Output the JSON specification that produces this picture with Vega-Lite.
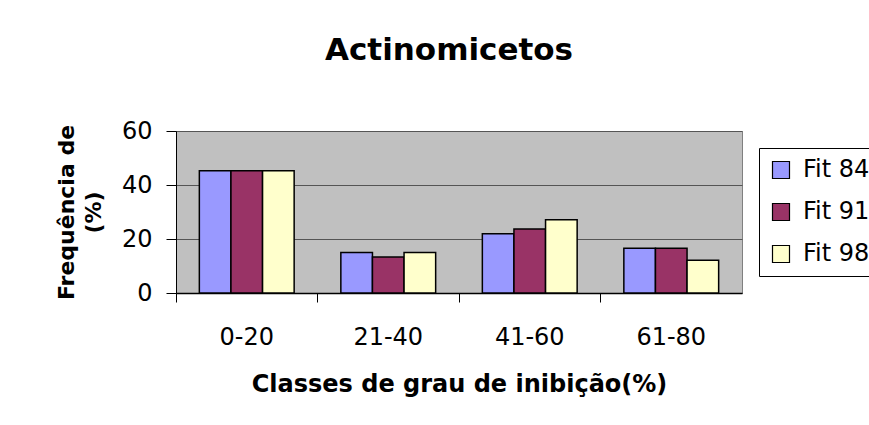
{
  "$schema": "https://vega.github.io/schema/vega-lite/v6.json",
  "autosize": {"type": "none"},
  "width": 566,
  "height": 162,
  "padding": {"left": 176, "top": 131, "right": 127, "bottom": 132},
  "background": "white",
  "title": {
    "text": "Actinomicetos",
    "font": "DejaVu Sans",
    "fontSize": 31,
    "fontWeight": "bold",
    "color": "black",
    "anchor": "middle",
    "offset": 52,
    "dx": -10
  },
  "data": {
    "values": [
      {"classe": "0-20", "serie": "Fit 84", "valor": 45.3},
      {"classe": "0-20", "serie": "Fit 91", "valor": 45.3},
      {"classe": "0-20", "serie": "Fit 98", "valor": 45.3},
      {"classe": "21-40", "serie": "Fit 84", "valor": 15.0},
      {"classe": "21-40", "serie": "Fit 91", "valor": 13.3},
      {"classe": "21-40", "serie": "Fit 98", "valor": 15.0},
      {"classe": "41-60", "serie": "Fit 84", "valor": 21.9},
      {"classe": "41-60", "serie": "Fit 91", "valor": 23.7},
      {"classe": "41-60", "serie": "Fit 98", "valor": 27.1},
      {"classe": "61-80", "serie": "Fit 84", "valor": 16.6},
      {"classe": "61-80", "serie": "Fit 91", "valor": 16.6},
      {"classe": "61-80", "serie": "Fit 98", "valor": 12.1}
    ]
  },
  "mark": {"type": "bar", "stroke": "black", "strokeWidth": 1.5},
  "encoding": {
    "x": {
      "field": "classe",
      "type": "nominal",
      "scale": {"paddingInner": 0.33, "paddingOuter": 0.165},
      "axis": {
        "title": "Classes de grau de inibição(%)",
        "titleFont": "DejaVu Sans",
        "titleFontSize": 24,
        "titleFontWeight": "bold",
        "titleColor": "black",
        "titlePadding": 23,
        "labelAngle": 0,
        "labelFont": "DejaVu Sans",
        "labelFontSize": 24,
        "labelColor": "black",
        "labelPadding": 23,
        "tickSize": 9,
        "tickColor": "black",
        "bandPosition": -0.246,
        "domainColor": "black",
        "domainWidth": 1.5,
        "grid": false
      }
    },
    "xOffset": {"field": "serie", "type": "nominal", "scale": {"paddingInner": 0, "paddingOuter": 0}},
    "y": {
      "field": "valor",
      "type": "quantitative",
      "scale": {"domain": [0, 60]},
      "axis": {
        "title": ["Frequência de", "(%)"],
        "titleFont": "DejaVu Sans",
        "titleFontSize": 22,
        "titleFontWeight": "bold",
        "titleColor": "black",
        "titlePadding": 16,
        "titleLineHeight": 27,
        "values": [0, 20, 40, 60],
        "labelFont": "DejaVu Sans",
        "labelFontSize": 24,
        "labelColor": "black",
        "labelPadding": 14,
        "tickSize": 10,
        "tickColor": "black",
        "domainColor": "black",
        "domainWidth": 1,
        "grid": true,
        "gridColor": "#555555",
        "gridWidth": 1.2
      }
    },
    "fill": {
      "field": "serie",
      "type": "nominal",
      "scale": {"domain": ["Fit 84", "Fit 91", "Fit 98"], "range": ["#9999FF", "#993366", "#FFFFCC"]},
      "legend": {
        "title": null,
        "orient": "none",
        "legendX": 583,
        "legendY": 17,
        "symbolType": "square",
        "symbolSize": 289,
        "symbolStrokeColor": "black",
        "symbolStrokeWidth": 1.2,
        "labelFont": "DejaVu Sans",
        "labelFontSize": 24,
        "labelColor": "black",
        "labelOffset": 10,
        "rowPadding": 18,
        "padding": 10,
        "strokeColor": "black",
        "fillColor": "white"
      }
    }
  },
  "config": {
    "view": {"fill": "#C0C0C0", "stroke": "#808080", "strokeWidth": 1}
  }
}
